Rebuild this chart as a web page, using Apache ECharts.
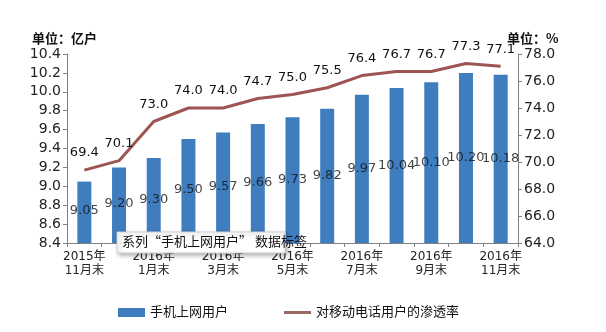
<!DOCTYPE html>
<html><head><meta charset="utf-8">
<script src="https://cdn.jsdelivr.net/npm/echarts@6/dist/echarts.min.js"></script>
<style>html,body{margin:0;padding:0;background:#fff;}#c{width:606px;height:332px;}</style>
</head><body><div id="c"></div>
<script>
const categories = ['2015年\n11月末','2015年\n12月末','2016年\n1月末','2016年\n2月末','2016年\n3月末','2016年\n4月末','2016年\n5月末','2016年\n6月末','2016年\n7月末','2016年\n8月末','2016年\n9月末','2016年\n10月末','2016年\n11月末'];
const mobileUsers = [9.05, 9.20, 9.30, 9.50, 9.57, 9.66, 9.73, 9.82, 9.97, 10.04, 10.10, 10.20, 10.18];
const penetration = [69.4, 70.1, 73.0, 74.0, 74.0, 74.7, 75.0, 75.5, 76.4, 76.7, 76.7, 77.3, 77.1];
const leftTicks = {min: 8.4, max: 10.4, step: 0.2};
const rightTicks = {min: 64, max: 78, step: 2};
const seriesNames = ['手机上网用户', '对移动电话用户的渗透率'];

const font = 'DejaVu Sans, Noto Sans CJK SC, sans-serif';
const chart = echarts.init(document.getElementById('c'), null, {renderer: 'canvas'});
chart.setOption({
  backgroundColor: '#fff',
  animation: false,
  textStyle: {fontFamily: font},
  grid: {left: 67, right: 88, top: 54, bottom: 89},
  legend: {
    left: 113, top: 301, itemGap: 56, itemWidth: 27, itemHeight: 9,
    textStyle: {fontSize: 13, color: '#111', fontFamily: font},
    data: [{name: seriesNames[0], icon: 'rect'},
           {name: seriesNames[1], icon: 'path://M0,0 L27,0 L27,3 L0,3 Z', itemStyle: {color: '#9a6a62'}}]
  },
  graphic: [
    {type: 'text', left: 32, top: 32, style: {text: '单位：亿户', font: 'bold 13px Noto Sans CJK SC', fill: '#111'}},
    {type: 'text', left: 507, top: 32, style: {text: '单位：%', font: 'bold 13px Noto Sans CJK SC', fill: '#111'}},
    {type: 'rect', shape: {x: 117, y: 232, width: 168, height: 21}, z: 100,
      style: {fill: '#fff', stroke: '#d0d0d0', lineWidth: 1, shadowBlur: 4, shadowOffsetX: 2, shadowOffsetY: 2, shadowColor: 'rgba(0,0,0,0.3)'}},
    {type: 'text', x: 122, y: 235, z: 101, style: {text: '系列“手机上网用户” 数据标签', font: '13px Noto Sans CJK SC', fill: '#111'}}
  ],
  xAxis: {
    type: 'category', data: categories, boundaryGap: true,
    axisLine: {lineStyle: {color: '#808080'}},
    axisTick: {show: true, interval: 0, length: 4, lineStyle: {color: '#808080'}},
    axisLabel: {interval: 1, color: '#222', fontSize: 12, lineHeight: 14, margin: 7, fontFamily: font}
  },
  yAxis: [
    {type: 'value', min: leftTicks.min, max: leftTicks.max, interval: leftTicks.step, position: 'left',
      axisLine: {show: true, lineStyle: {color: '#808080'}},
      axisTick: {show: true, length: 4, lineStyle: {color: '#808080'}},
      splitLine: {show: false},
      axisLabel: {fontSize: 14, color: '#222', margin: 6, formatter: v => v.toFixed(1)}},
    {type: 'value', min: rightTicks.min, max: rightTicks.max, interval: rightTicks.step, position: 'right',
      axisLine: {show: true, lineStyle: {color: '#808080'}},
      axisTick: {show: true, length: 4, lineStyle: {color: '#808080'}},
      splitLine: {show: false},
      axisLabel: {fontSize: 14, color: '#222', margin: 6, formatter: v => v.toFixed(1)}},
    {type: 'value', min: 8.35, max: 12.46, show: false}
  ],
  series: [
    {name: seriesNames[0], type: 'bar', data: mobileUsers, yAxisIndex: 0, barWidth: 14,
      itemStyle: {color: '#3f7dbf'}},
    {name: seriesNames[1], type: 'line', data: penetration, yAxisIndex: 1, symbol: 'circle', symbolSize: 1,
      lineStyle: {color: '#9e5452', width: 3}, itemStyle: {color: 'rgba(0,0,0,0)'},
      label: {show: true, position: 'top', distance: 10, fontSize: 13, color: '#111', formatter: p => p.value.toFixed(1)}},
    {name: 'labels', type: 'scatter', data: mobileUsers, yAxisIndex: 2, symbolSize: 0, silent: true,
      label: {show: true, position: 'inside', fontSize: 13, color: '#111', formatter: p => p.value.toFixed(2)}}
  ]
});
</script></body></html>
